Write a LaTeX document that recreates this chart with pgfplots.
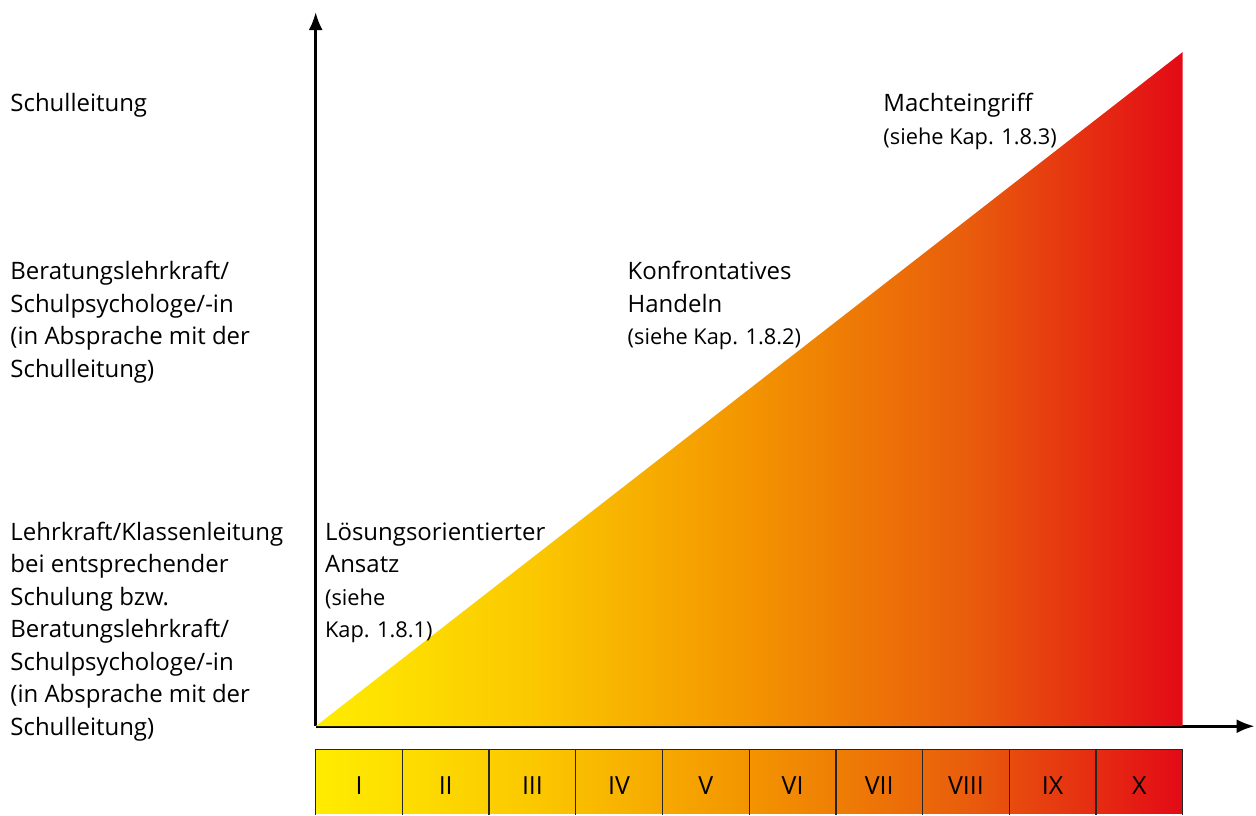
\documentclass[border=0pt]{standalone}
\usepackage{pgfplots}
\pgfplotsset{compat=1.18}
\usetikzlibrary{arrows.meta}
\usepackage{fontspec}
\setmainfont{Open Sans}
\definecolor{c0}{RGB}{255,236,0}
\definecolor{c1}{RGB}{251,200,0}
\definecolor{c2}{RGB}{243,148,0}
\definecolor{c3}{RGB}{233,93,12}
\definecolor{c4}{RGB}{227,10,22}
\pgfdeclarehorizontalshading{grad}{100bp}{color(0bp)=(c0); color(25bp)=(c0); color(37.5bp)=(c1); color(50bp)=(c2); color(62.5bp)=(c3); color(75bp)=(c4); color(100bp)=(c4)}
\tikzset{lbl/.style={anchor=base west, font=\fontsize{12}{15}\selectfont, inner sep=0pt},
         par/.style={anchor=base west, font=\fontsize{10.9}{14}\selectfont, inner sep=0pt},
         num/.style={anchor=center, font=\fontsize{12.5}{15}\selectfont, inner sep=0pt}}
\begin{document}
\begin{tikzpicture}
\begin{axis}[
  scale only axis, width=470pt, height=357.5pt,
  xmin=0, xmax=10.829, ymin=0, ymax=8.237,
  axis lines*=left,
  x axis line style={line width=1.4pt, -{Latex[length=9pt,width=7pt]}},
  y axis line style={line width=1.4pt, -{Latex[length=9pt,width=7pt]}},
  xtick=\empty, ytick=\empty,
  clip=false,
]
% bounding area
\path (axis cs:-3.641,-1.002) -- (axis cs:10.829,8.376);
% gradient triangle
\addplot[draw=none, shading=grad] coordinates {(0,0) (10,0) (10,7.776)} -- cycle;
% scale boxes
\addplot[draw=none, shading=grad] coordinates {(0,-0.265) (10,-0.265) (10,-1.002) (0,-1.002)} -- cycle;
\addplot[black!85, line width=0.7pt] coordinates {(0,-1.02) (0,-0.265) (10,-0.265) (10,-1.02)};
\pgfplotsinvokeforeach{1,...,9}{
  \addplot[black!85, line width=0.7pt] coordinates {(#1,-0.265) (#1,-1.02)};
}
\node[num] at (axis cs:0.5,-0.680) {I};
\node[num] at (axis cs:1.5,-0.680) {II};
\node[num] at (axis cs:2.5,-0.680) {III};
\node[num] at (axis cs:3.5,-0.680) {IV};
\node[num] at (axis cs:4.5,-0.680) {V};
\node[num] at (axis cs:5.5,-0.680) {VI};
\node[num] at (axis cs:6.5,-0.680) {VII};
\node[num] at (axis cs:7.5,-0.680) {VIII};
\node[num] at (axis cs:8.5,-0.680) {IX};
\node[num] at (axis cs:9.5,-0.680) {X};
% left labels
\node[lbl] at (axis cs:-3.525,7.085) {Schulleitung};
\node[lbl] at (axis cs:-3.525,5.150) {Beratungslehrkraft/};
\node[lbl] at (axis cs:-3.525,4.776) {Schulpsychologe/-in};
\node[lbl] at (axis cs:-3.525,4.401) {(in Absprache mit der};
\node[lbl] at (axis cs:-3.525,4.027) {Schulleitung)};
\node[lbl] at (axis cs:-3.525,2.143) {Lehrkraft/Klassenleitung};
\node[lbl] at (axis cs:-3.525,1.768) {bei entsprechender};
\node[lbl] at (axis cs:-3.525,1.394) {Schulung bzw.};
\node[lbl] at (axis cs:-3.525,1.020) {Beratungslehrkraft/};
\node[lbl] at (axis cs:-3.525,0.645) {Schulpsychologe/-in};
\node[lbl] at (axis cs:-3.525,0.271) {(in Absprache mit der};
\node[lbl] at (axis cs:-3.525,-0.104) {Schulleitung)};
% labels in the triangle area
\node[lbl] at (axis cs:0.104,2.143) {Lösungsorientierter};
\node[lbl] at (axis cs:0.104,1.768) {Ansatz};
\node[par] at (axis cs:0.104,1.394) {(siehe};
\node[par] at (axis cs:0.104,1.020) {Kap. 1.8.1)};
\node[lbl] at (axis cs:3.594,5.150) {Konfrontatives};
\node[lbl] at (axis cs:3.594,4.776) {Handeln};
\node[par] at (axis cs:3.594,4.401) {(siehe Kap. 1.8.2)};
\node[lbl] at (axis cs:6.544,7.085) {Machteingriff};
\node[par] at (axis cs:6.544,6.711) {(siehe Kap. 1.8.3)};
\end{axis}
\end{tikzpicture}
\end{document}
